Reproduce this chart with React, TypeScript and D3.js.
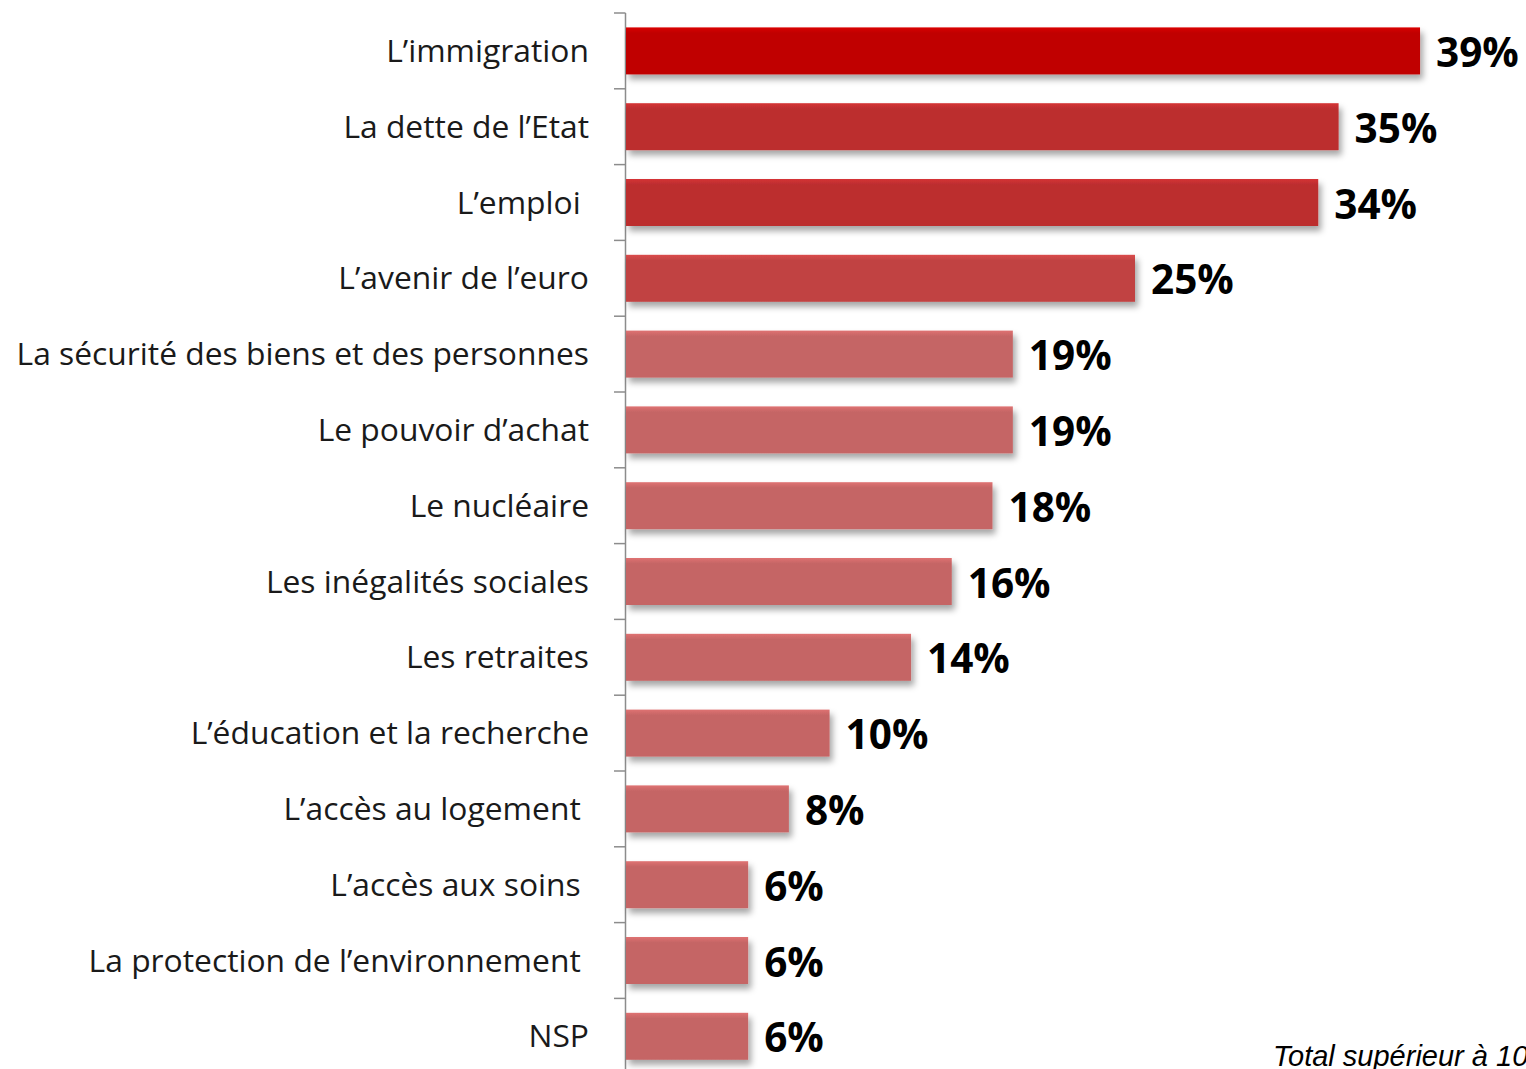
import React from "react";
import * as d3 from "d3";

const categories = [
  "L\u2019immigration",
  "La dette de l\u2019Etat",
  "L\u2019emploi ",
  "L\u2019avenir de l\u2019euro",
  "La s\u00e9curit\u00e9 des biens et des personnes",
  "Le pouvoir d\u2019achat",
  "Le nucl\u00e9aire",
  "Les in\u00e9galit\u00e9s sociales",
  "Les retraites",
  "L\u2019\u00e9ducation et la recherche",
  "L\u2019acc\u00e8s au logement ",
  "L\u2019acc\u00e8s aux soins ",
  "La protection de l\u2019environnement ",
  "NSP",
];
const values = [39, 35, 34, 25, 19, 19, 18, 16, 14, 10, 8, 6, 6, 6];
const barColors = [
  "#C00000", "#BC2D2F", "#BC2D2F", "#C14343",
  "#C56565", "#C56565", "#C56565", "#C56565", "#C56565",
  "#C56565", "#C56565", "#C56565", "#C56565", "#C56565",
];
const footnote = "Total sup\u00e9rieur \u00e0 100%";

const W = 1526;
const H = 1069;

export default function App() {
  const x0 = 626;
  const x = d3.scaleLinear().domain([0, 1]).range([x0, x0 + 20.36]);
  const step = 75.8;
  const top = 13;
  const y = d3
    .scaleBand<string>()
    .domain(categories)
    .range([top, top + step * categories.length])
    .paddingInner(0.38)
    .paddingOuter(0.19);
  const bw = y.bandwidth();

  return (
    <div style={{ position: "absolute", left: 0, top: 0, width: W, height: H, overflow: "hidden", background: "#fff" }}>
      <svg width={W} height={H} style={{ display: "block" }}>
        <defs>
          <filter id="sh" x="-5%" y="-30%" width="115%" height="180%">
            <feDropShadow dx="3" dy="5" stdDeviation="3" floodColor="#000" floodOpacity="0.35" />
          </filter>
          {barColors.map((c, i) => {
            const lc = d3.color(c)!.brighter(0.35).formatHex();
            return (
              <linearGradient key={i} id={`g${i}`} x1="0" y1="0" x2="0" y2="1">
                <stop offset="0" stopColor={lc} />
                <stop offset="0.12" stopColor={c} />
                <stop offset="1" stopColor={c} />
              </linearGradient>
            );
          })}
        </defs>
        <line x1={625.5} x2={625.5} y1={top} y2={H} stroke="#8c8c8c" strokeWidth={1.5} />
        {categories.map((_, i) => (
          <line key={i} x1={614} x2={625.5} y1={top + i * step} y2={top + i * step} stroke="#8c8c8c" strokeWidth={1.5} />
        ))}
        {categories.map((c, i) => {
          const yy = y(c)!;
          return (
            <g key={c}>
              <rect
                x={x(0)}
                y={yy}
                width={x(values[i]) - x(0)}
                height={bw}
                fill={`url(#g${i})`}
                filter="url(#sh)"
              />
              <text
                x={589}
                y={yy + bw / 2 + 11}
                textAnchor="end"
                fontFamily="'Open Sans', sans-serif"
                fontSize={31.8}
                fill="#1a1a1a"
                style={{ whiteSpace: "pre" }}
              >
                {c}
              </text>
              <text
                x={x(values[i]) + 16}
                y={yy + bw / 2 + 16}
                fontFamily="'Open Sans', sans-serif"
                fontWeight="bold"
                fontSize={40.5}
                fill="#000"
              >
                {values[i]}%
              </text>
            </g>
          );
        })}
        <text
          x={1273}
          y={1066}
          fontFamily="'Liberation Sans', Arial, sans-serif"
          fontStyle="italic"
          fontSize={29}
          fill="#000"
        >
          {footnote}
        </text>
      </svg>
    </div>
  );
}
